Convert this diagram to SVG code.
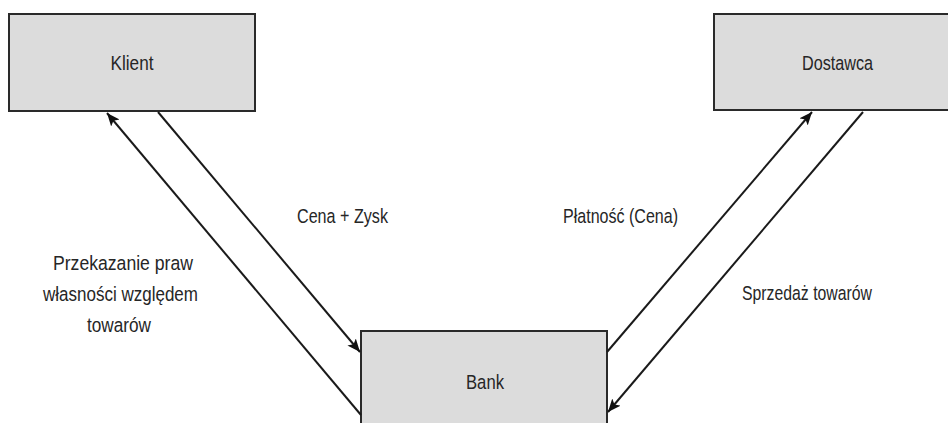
<svg xmlns="http://www.w3.org/2000/svg" width="948" height="423" viewBox="0 0 948 423">
<style>
.box{fill:#dcdcdc;stroke:#2a2a2a;stroke-width:2}
.lbl{font-family:"Liberation Sans Narrow","Liberation Sans",Arial,sans-serif;font-size:20.5px;fill:#262626;text-anchor:middle}
.con{stroke:#1a1a1a;stroke-width:2;fill:none}
</style>
<defs>
<marker id="ah" markerUnits="userSpaceOnUse" markerWidth="14" markerHeight="12" refX="13" refY="5.5" orient="auto">
<path d="M0,0 L13,5.5 L0,11 L3,5.5 z" fill="#111"/>
</marker>
</defs>
<rect width="948" height="423" fill="#ffffff"/>
<g id="klient">
<rect class="box" x="9" y="14" width="246" height="97"/>
<text class="lbl" x="132" y="70" textLength="43" lengthAdjust="spacingAndGlyphs">Klient</text>
</g>
<g id="dostawca">
<rect class="box" x="714" y="14" width="240" height="96"/>
<text class="lbl" x="837.5" y="70" textLength="71" lengthAdjust="spacingAndGlyphs">Dostawca</text>
</g>
<g id="bank">
<rect class="box" x="361" y="331" width="246" height="100"/>
<text class="lbl" x="485" y="389" textLength="38" lengthAdjust="spacingAndGlyphs">Bank</text>
</g>
<g id="connectors">
<line class="con" x1="361" y1="415" x2="107" y2="113" marker-end="url(#ah)"/>
<line class="con" x1="158" y1="112" x2="360" y2="352" marker-end="url(#ah)"/>
<line class="con" x1="607" y1="352" x2="812" y2="112" marker-end="url(#ah)"/>
<line class="con" x1="863" y1="112" x2="608" y2="412" marker-end="url(#ah)"/>
</g>
<g id="labels">
<text class="lbl" x="342.5" y="223" textLength="91" lengthAdjust="spacingAndGlyphs">Cena + Zysk</text>
<text class="lbl" x="620.5" y="223" textLength="115" lengthAdjust="spacingAndGlyphs">Płatność (Cena)</text>
<text class="lbl" x="807" y="300" textLength="130" lengthAdjust="spacingAndGlyphs">Sprzedaż towarów</text>
<text class="lbl" x="123" y="270" textLength="140" lengthAdjust="spacingAndGlyphs">Przekazanie praw</text>
<text class="lbl" x="120.5" y="301" textLength="155" lengthAdjust="spacingAndGlyphs">własności względem</text>
<text class="lbl" x="119" y="332" textLength="64" lengthAdjust="spacingAndGlyphs">towarów</text>
</g>
</svg>
